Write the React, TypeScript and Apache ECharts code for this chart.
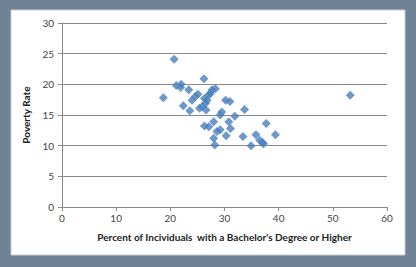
import React, { useEffect, useRef } from "react";
import * as echarts from "echarts";

const bachelorPct = [18.7, 20.7, 21.1, 22.0, 21.9, 22.4, 23.4, 23.6, 24.0, 24.6, 25.1, 25.4, 25.9, 26.2, 26.3, 26.8, 27.1, 27.4, 27.7, 28.3, 26.5, 26.6, 26.3, 27.1, 28.0, 28.0, 28.2, 29.2, 29.5, 30.2, 31.0, 30.3, 31.1, 31.9, 30.8, 29.2, 28.6, 33.7, 33.4, 34.9, 35.8, 36.5, 37.0, 37.2, 37.7, 39.4, 53.2];
const povertyRate = [17.8, 24.1, 19.8, 20.0, 19.5, 16.5, 19.1, 15.7, 17.4, 18.0, 18.4, 16.1, 16.4, 20.9, 17.7, 17.4, 18.3, 18.5, 19.1, 19.3, 16.9, 15.8, 13.2, 13.1, 13.9, 11.2, 10.1, 15.0, 15.5, 17.4, 17.2, 11.6, 12.8, 14.8, 13.9, 12.6, 12.3, 15.9, 11.5, 10.0, 11.8, 10.9, 10.5, 10.3, 13.6, 11.8, 18.2];
const xTitle = "Percent of Incividuals  with a Bachelor's Degree or Higher";
const yTitle = "Poverty Rate";

export default function App() {
  const ref = useRef<HTMLDivElement>(null);
  useEffect(() => {
    document.body.style.margin = "0";
    const chart = echarts.init(ref.current!, null, { renderer: "svg" });
    const font = "Lato, 'Open Sans', sans-serif";
    chart.setOption({
      animation: false,
      backgroundColor: "#ffffff",
      graphic: [
        {
          type: "rect",
          silent: true,
          z: -10,
          shape: { x: 0, y: 0, width: 416, height: 267 },
          style: { fill: "#6f8296" },
        },
        {
          type: "rect",
          silent: true,
          z: -9,
          shape: { x: 11, y: 10, width: 394, height: 245 },
          style: { fill: "#ffffff", stroke: "#c8ccd0", lineWidth: 1 },
        },
      ],
      grid: { left: 62, right: 29, top: 23, bottom: 60 },
      xAxis: {
        type: "value",
        min: 0,
        max: 60,
        interval: 10,
        name: xTitle,
        nameLocation: "middle",
        nameGap: 25,
        nameTextStyle: { fontFamily: font, fontWeight: "bold", fontSize: 10, color: "#222" },
        axisLine: { show: true, lineStyle: { color: "#8a8a8a" } },
        axisTick: { show: true, length: 4, lineStyle: { color: "#8a8a8a" } },
        axisLabel: { fontFamily: font, fontSize: 10, color: "#444", margin: 6 },
        splitLine: { show: false },
      },
      yAxis: {
        type: "value",
        min: 0,
        max: 30,
        interval: 5,
        name: yTitle,
        nameLocation: "middle",
        nameGap: 26,
        nameRotate: 90,
        nameTextStyle: { fontFamily: font, fontWeight: "bold", fontSize: 10, color: "#222" },
        axisLine: { show: true, lineStyle: { color: "#8a8a8a" } },
        axisTick: { show: true, length: 4, lineStyle: { color: "#8a8a8a" } },
        axisLabel: { fontFamily: font, fontSize: 10, color: "#444", margin: 8 },
        splitLine: { show: true, lineStyle: { color: "#8a8a8a", width: 1 } },
      },
      series: [
        {
          type: "scatter",
          symbol: "diamond",
          symbolSize: 9,
          itemStyle: { color: "#4a7ebb" },
          data: bachelorPct.map((x, i) => [x, povertyRate[i]]),
        },
      ],
    });
    return () => chart.dispose();
  }, []);
  return <div ref={ref} style={{ width: 416, height: 267 }} />;
}
